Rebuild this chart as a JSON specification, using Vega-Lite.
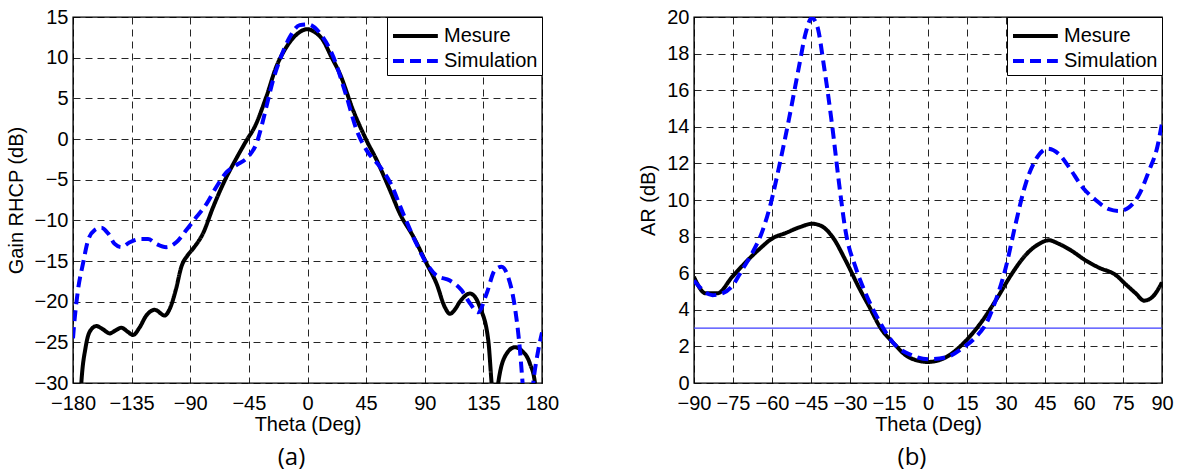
{
  "$schema": "https://vega.github.io/schema/vega-lite/v6.json",
  "background": "white",
  "padding": {"left": 5, "top": 6, "right": 5, "bottom": 0},
  "spacing": 78,
  "config": {
    "view": {"stroke": "black", "strokeWidth": 1.4},
    "font": "Liberation Sans",
    "axis": {
      "grid": true, "gridColor": "#000000", "gridDash": [7, 5], "gridWidth": 1, "gridOpacity": 0.85,
      "domain": false, "ticks": false, "labelOverlap": false, "labelFlush": false,
      "labelFont": "Liberation Sans", "labelFontSize": 20, "labelColor": "black",
      "titleFont": "Liberation Sans", "titleFontSize": 20, "titleFontWeight": "normal", "titleColor": "black"
    },
    "axisX": {"labelPadding": 10, "titlePadding": 1},
    "axisY": {"labelPadding": 5, "titlePadding": 8},
    "legend": {
      "orient": "top-right", "offset": 0, "strokeColor": "black", "fillColor": "white", "padding": 4,
      "labelFont": "Liberation Sans", "labelFontSize": 20, "labelColor": "black", "labelLimit": 300,
      "symbolType": "M-1,0H2.45", "symbolStrokeWidth": 4, "symbolSize": 676, "labelOffset": 23,
      "rowPadding": 0, "cornerRadius": 0
    },
    "title": {"font": "Open Sans", "fontSize": 24, "fontWeight": "normal", "color": "black"}
  },
  "resolve": {"scale": {"color": "independent", "strokeDash": "independent"}, "legend": {"color": "independent", "strokeDash": "independent"}},
  "hconcat": [
    {
      "width": 469, "height": 366,
      "title": {"text": "(a)", "orient": "bottom", "anchor": "middle", "dx": -16, "offset": 12},
      "layer": [
        {
          "data": {"values": [
            {"theta": -175, "value": -34, "series": "Mesure"},
            {"theta": -173.6, "value": -30, "series": "Mesure"},
            {"theta": -170.3, "value": -25.6, "series": "Mesure"},
            {"theta": -167.2, "value": -23.7, "series": "Mesure"},
            {"theta": -162.1, "value": -23.0, "series": "Mesure"},
            {"theta": -157, "value": -23.4, "series": "Mesure"},
            {"theta": -151.9, "value": -23.9, "series": "Mesure"},
            {"theta": -147, "value": -23.5, "series": "Mesure"},
            {"theta": -142.9, "value": -23.2, "series": "Mesure"},
            {"theta": -138, "value": -23.7, "series": "Mesure"},
            {"theta": -133.9, "value": -24.1, "series": "Mesure"},
            {"theta": -129, "value": -23.2, "series": "Mesure"},
            {"theta": -123.7, "value": -21.7, "series": "Mesure"},
            {"theta": -117.3, "value": -21.0, "series": "Mesure"},
            {"theta": -109.6, "value": -21.7, "series": "Mesure"},
            {"theta": -105.8, "value": -20.9, "series": "Mesure"},
            {"theta": -101, "value": -18.5, "series": "Mesure"},
            {"theta": -96.8, "value": -15.7, "series": "Mesure"},
            {"theta": -92, "value": -14.3, "series": "Mesure"},
            {"theta": -87.9, "value": -13.5, "series": "Mesure"},
            {"theta": -80.2, "value": -11.6, "series": "Mesure"},
            {"theta": -72.5, "value": -8.4, "series": "Mesure"},
            {"theta": -62.3, "value": -4.7, "series": "Mesure"},
            {"theta": -55, "value": -2.5, "series": "Mesure"},
            {"theta": -46.9, "value": -0.2, "series": "Mesure"},
            {"theta": -40.5, "value": 1.5, "series": "Mesure"},
            {"theta": -31.6, "value": 5.2, "series": "Mesure"},
            {"theta": -23.9, "value": 8.9, "series": "Mesure"},
            {"theta": -16.2, "value": 11.3, "series": "Mesure"},
            {"theta": -8, "value": 12.9, "series": "Mesure"},
            {"theta": 0, "value": 13.5, "series": "Mesure"},
            {"theta": 5, "value": 13.2, "series": "Mesure"},
            {"theta": 12.1, "value": 12.1, "series": "Mesure"},
            {"theta": 18, "value": 10.2, "series": "Mesure"},
            {"theta": 24.9, "value": 8.0, "series": "Mesure"},
            {"theta": 35.1, "value": 3.5, "series": "Mesure"},
            {"theta": 45.4, "value": -0.2, "series": "Mesure"},
            {"theta": 53.1, "value": -2.6, "series": "Mesure"},
            {"theta": 63.3, "value": -6.3, "series": "Mesure"},
            {"theta": 71, "value": -9.2, "series": "Mesure"},
            {"theta": 81.2, "value": -12.0, "series": "Mesure"},
            {"theta": 91.4, "value": -15.3, "series": "Mesure"},
            {"theta": 99.1, "value": -17.8, "series": "Mesure"},
            {"theta": 105.5, "value": -20.7, "series": "Mesure"},
            {"theta": 109.3, "value": -21.5, "series": "Mesure"},
            {"theta": 113, "value": -21.0, "series": "Mesure"},
            {"theta": 117, "value": -20.0, "series": "Mesure"},
            {"theta": 124.7, "value": -19.0, "series": "Mesure"},
            {"theta": 128, "value": -19.3, "series": "Mesure"},
            {"theta": 132.4, "value": -20.7, "series": "Mesure"},
            {"theta": 138.8, "value": -24.8, "series": "Mesure"},
            {"theta": 141.3, "value": -30, "series": "Mesure"},
            {"theta": 143.5, "value": -34, "series": "Mesure"},
            {"theta": 146.4, "value": -30, "series": "Mesure"},
            {"theta": 152.8, "value": -26.4, "series": "Mesure"},
            {"theta": 159.2, "value": -25.6, "series": "Mesure"},
            {"theta": 164.3, "value": -26.0, "series": "Mesure"},
            {"theta": 170.7, "value": -27.6, "series": "Mesure"},
            {"theta": 174.6, "value": -30, "series": "Mesure"},
            {"theta": 176, "value": -34, "series": "Mesure"},
            {"theta": -180, "value": -24.5, "series": "Simulation"},
            {"theta": -179.5, "value": -23.5, "series": "Simulation"},
            {"theta": -176.2, "value": -18.6, "series": "Simulation"},
            {"theta": -172.3, "value": -15.3, "series": "Simulation"},
            {"theta": -168.5, "value": -12.5, "series": "Simulation"},
            {"theta": -163.4, "value": -11.2, "series": "Simulation"},
            {"theta": -158.2, "value": -10.9, "series": "Simulation"},
            {"theta": -153.1, "value": -11.6, "series": "Simulation"},
            {"theta": -148, "value": -12.9, "series": "Simulation"},
            {"theta": -142.9, "value": -13.3, "series": "Simulation"},
            {"theta": -136.5, "value": -12.7, "series": "Simulation"},
            {"theta": -128.8, "value": -12.3, "series": "Simulation"},
            {"theta": -122.4, "value": -12.3, "series": "Simulation"},
            {"theta": -116, "value": -12.9, "series": "Simulation"},
            {"theta": -108.4, "value": -13.3, "series": "Simulation"},
            {"theta": -100.7, "value": -12.7, "series": "Simulation"},
            {"theta": -93, "value": -11.2, "series": "Simulation"},
            {"theta": -85.3, "value": -9.6, "series": "Simulation"},
            {"theta": -77.6, "value": -8.0, "series": "Simulation"},
            {"theta": -70, "value": -5.9, "series": "Simulation"},
            {"theta": -62.3, "value": -4.1, "series": "Simulation"},
            {"theta": -54.6, "value": -3.2, "series": "Simulation"},
            {"theta": -45.7, "value": -2.2, "series": "Simulation"},
            {"theta": -39.3, "value": -0.6, "series": "Simulation"},
            {"theta": -34.1, "value": 2.3, "series": "Simulation"},
            {"theta": -30.3, "value": 4.8, "series": "Simulation"},
            {"theta": -26.5, "value": 7.2, "series": "Simulation"},
            {"theta": -21.3, "value": 9.7, "series": "Simulation"},
            {"theta": -13.7, "value": 12.5, "series": "Simulation"},
            {"theta": -6, "value": 14.0, "series": "Simulation"},
            {"theta": 0, "value": 14.1, "series": "Simulation"},
            {"theta": 9.6, "value": 13.0, "series": "Simulation"},
            {"theta": 19.8, "value": 10.1, "series": "Simulation"},
            {"theta": 30, "value": 5.2, "series": "Simulation"},
            {"theta": 37.7, "value": 1.1, "series": "Simulation"},
            {"theta": 45.4, "value": -1.4, "series": "Simulation"},
            {"theta": 55.6, "value": -3.4, "series": "Simulation"},
            {"theta": 63.3, "value": -5.3, "series": "Simulation"},
            {"theta": 73.5, "value": -9.2, "series": "Simulation"},
            {"theta": 83.7, "value": -12.9, "series": "Simulation"},
            {"theta": 91.4, "value": -15.3, "series": "Simulation"},
            {"theta": 99.1, "value": -16.8, "series": "Simulation"},
            {"theta": 109.3, "value": -17.4, "series": "Simulation"},
            {"theta": 118.3, "value": -18.6, "series": "Simulation"},
            {"theta": 124.7, "value": -20.2, "series": "Simulation"},
            {"theta": 131, "value": -21.3, "series": "Simulation"},
            {"theta": 137.5, "value": -19.0, "series": "Simulation"},
            {"theta": 143.9, "value": -16.1, "series": "Simulation"},
            {"theta": 149, "value": -15.7, "series": "Simulation"},
            {"theta": 154.1, "value": -17.0, "series": "Simulation"},
            {"theta": 159.2, "value": -20.7, "series": "Simulation"},
            {"theta": 163.1, "value": -26.0, "series": "Simulation"},
            {"theta": 165.1, "value": -30, "series": "Simulation"},
            {"theta": 166.5, "value": -33, "series": "Simulation"},
            {"theta": 171.5, "value": -33, "series": "Simulation"},
            {"theta": 173.3, "value": -30, "series": "Simulation"},
            {"theta": 177.1, "value": -26, "series": "Simulation"},
            {"theta": 180, "value": -23.8, "series": "Simulation"}
          ]},
          "mark": {"type": "line", "clip": true, "interpolate": "monotone", "strokeWidth": 4},
          "encoding": {
            "x": {"field": "theta", "type": "quantitative", "title": "Theta (Deg)",
                  "scale": {"domain": [-180, 180], "nice": false},
                  "axis": {"values": [-180, -135, -90, -45, 0, 45, 90, 135, 180]}},
            "y": {"field": "value", "type": "quantitative", "title": "Gain RHCP (dB)",
                  "scale": {"domain": [-30, 15], "nice": false},
                  "axis": {"values": [-30, -25, -20, -15, -10, -5, 0, 5, 10, 15]}},
            "color": {"field": "series", "type": "nominal", "title": null,
                      "scale": {"domain": ["Mesure", "Simulation"], "range": ["#000000", "#0000ff"]}},
            "strokeDash": {"field": "series", "type": "nominal", "title": null,
                           "scale": {"domain": ["Mesure", "Simulation"], "range": [[1, 0], [11, 6]]}}
          }
        }
      ]
    },
    {
      "width": 468, "height": 366,
      "title": {"text": "(b)", "orient": "bottom", "anchor": "middle", "dx": -16, "offset": 12},
      "layer": [
        {
          "data": {"values": [{"level": 3}]},
          "mark": {"type": "rule", "color": "#3c3cff", "strokeWidth": 1.2},
          "encoding": {"y": {"field": "level", "type": "quantitative", "title": "AR (dB)",
                  "scale": {"domain": [0, 20], "nice": false},
                  "axis": {"values": [0, 2, 4, 6, 8, 10, 12, 14, 16, 18, 20]}}}
        },
        {
          "data": {"values": [
            {"theta": -90, "value": 5.8, "series": "Mesure"},
            {"theta": -85.5, "value": 4.9, "series": "Mesure"},
            {"theta": -81, "value": 4.9, "series": "Mesure"},
            {"theta": -75.3, "value": 5.8, "series": "Mesure"},
            {"theta": -70.1, "value": 6.6, "series": "Mesure"},
            {"theta": -65, "value": 7.3, "series": "Mesure"},
            {"theta": -59.9, "value": 7.9, "series": "Mesure"},
            {"theta": -54.7, "value": 8.2, "series": "Mesure"},
            {"theta": -49.6, "value": 8.5, "series": "Mesure"},
            {"theta": -44.5, "value": 8.7, "series": "Mesure"},
            {"theta": -41.3, "value": 8.6, "series": "Mesure"},
            {"theta": -36.8, "value": 8.0, "series": "Mesure"},
            {"theta": -31.7, "value": 6.7, "series": "Mesure"},
            {"theta": -26.5, "value": 5.2, "series": "Mesure"},
            {"theta": -22.7, "value": 4.2, "series": "Mesure"},
            {"theta": -18.2, "value": 3.0, "series": "Mesure"},
            {"theta": -13.4, "value": 2.2, "series": "Mesure"},
            {"theta": -7.3, "value": 1.4, "series": "Mesure"},
            {"theta": 0, "value": 1.15, "series": "Mesure"},
            {"theta": 6.8, "value": 1.4, "series": "Mesure"},
            {"theta": 14.5, "value": 2.3, "series": "Mesure"},
            {"theta": 20.9, "value": 3.4, "series": "Mesure"},
            {"theta": 26, "value": 4.5, "series": "Mesure"},
            {"theta": 32.4, "value": 6.0, "series": "Mesure"},
            {"theta": 37.6, "value": 7.0, "series": "Mesure"},
            {"theta": 42.7, "value": 7.6, "series": "Mesure"},
            {"theta": 46.5, "value": 7.8, "series": "Mesure"},
            {"theta": 50.4, "value": 7.6, "series": "Mesure"},
            {"theta": 55.5, "value": 7.2, "series": "Mesure"},
            {"theta": 60.6, "value": 6.7, "series": "Mesure"},
            {"theta": 65.8, "value": 6.3, "series": "Mesure"},
            {"theta": 72.2, "value": 5.9, "series": "Mesure"},
            {"theta": 76, "value": 5.4, "series": "Mesure"},
            {"theta": 79.9, "value": 4.9, "series": "Mesure"},
            {"theta": 83.1, "value": 4.5, "series": "Mesure"},
            {"theta": 86.3, "value": 4.7, "series": "Mesure"},
            {"theta": 90, "value": 5.5, "series": "Mesure"},
            {"theta": -90, "value": 5.6, "series": "Simulation"},
            {"theta": -86.8, "value": 5.1, "series": "Simulation"},
            {"theta": -82.9, "value": 4.8, "series": "Simulation"},
            {"theta": -79.1, "value": 4.9, "series": "Simulation"},
            {"theta": -75.3, "value": 5.3, "series": "Simulation"},
            {"theta": -71.4, "value": 6.2, "series": "Simulation"},
            {"theta": -67.6, "value": 7.1, "series": "Simulation"},
            {"theta": -63.7, "value": 8.3, "series": "Simulation"},
            {"theta": -60.5, "value": 9.8, "series": "Simulation"},
            {"theta": -57.3, "value": 11.8, "series": "Simulation"},
            {"theta": -53.5, "value": 14.4, "series": "Simulation"},
            {"theta": -49.6, "value": 17.3, "series": "Simulation"},
            {"theta": -47.1, "value": 19.1, "series": "Simulation"},
            {"theta": -44.7, "value": 19.95, "series": "Simulation"},
            {"theta": -42.6, "value": 19.5, "series": "Simulation"},
            {"theta": -40, "value": 17.3, "series": "Simulation"},
            {"theta": -36.8, "value": 14.0, "series": "Simulation"},
            {"theta": -34.2, "value": 10.9, "series": "Simulation"},
            {"theta": -31.7, "value": 8.3, "series": "Simulation"},
            {"theta": -27.8, "value": 6.3, "series": "Simulation"},
            {"theta": -24, "value": 4.9, "series": "Simulation"},
            {"theta": -18.8, "value": 3.4, "series": "Simulation"},
            {"theta": -13.4, "value": 2.2, "series": "Simulation"},
            {"theta": -6, "value": 1.5, "series": "Simulation"},
            {"theta": 0, "value": 1.3, "series": "Simulation"},
            {"theta": 6.8, "value": 1.4, "series": "Simulation"},
            {"theta": 13.2, "value": 1.9, "series": "Simulation"},
            {"theta": 18.3, "value": 2.5, "series": "Simulation"},
            {"theta": 22.2, "value": 3.2, "series": "Simulation"},
            {"theta": 26, "value": 4.5, "series": "Simulation"},
            {"theta": 29.9, "value": 6.3, "series": "Simulation"},
            {"theta": 33.7, "value": 8.7, "series": "Simulation"},
            {"theta": 37.6, "value": 10.9, "series": "Simulation"},
            {"theta": 41.4, "value": 12.2, "series": "Simulation"},
            {"theta": 46, "value": 12.8, "series": "Simulation"},
            {"theta": 50.4, "value": 12.5, "series": "Simulation"},
            {"theta": 54.2, "value": 11.8, "series": "Simulation"},
            {"theta": 59.4, "value": 10.7, "series": "Simulation"},
            {"theta": 64.5, "value": 10.0, "series": "Simulation"},
            {"theta": 69.6, "value": 9.5, "series": "Simulation"},
            {"theta": 73.5, "value": 9.4, "series": "Simulation"},
            {"theta": 77.3, "value": 9.6, "series": "Simulation"},
            {"theta": 81.2, "value": 10.3, "series": "Simulation"},
            {"theta": 85, "value": 11.6, "series": "Simulation"},
            {"theta": 88.2, "value": 12.9, "series": "Simulation"},
            {"theta": 90, "value": 14.2, "series": "Simulation"}
          ]},
          "mark": {"type": "line", "clip": true, "interpolate": "monotone", "strokeWidth": 4},
          "encoding": {
            "x": {"field": "theta", "type": "quantitative", "title": "Theta (Deg)",
                  "scale": {"domain": [-90, 90], "nice": false},
                  "axis": {"values": [-90, -75, -60, -45, -30, -15, 0, 15, 30, 45, 60, 75, 90]}},
            "y": {"field": "value", "type": "quantitative", "title": "AR (dB)",
                  "scale": {"domain": [0, 20], "nice": false},
                  "axis": {"values": [0, 2, 4, 6, 8, 10, 12, 14, 16, 18, 20]}},
            "color": {"field": "series", "type": "nominal", "title": null,
                      "scale": {"domain": ["Mesure", "Simulation"], "range": ["#000000", "#0000ff"]}},
            "strokeDash": {"field": "series", "type": "nominal", "title": null,
                           "scale": {"domain": ["Mesure", "Simulation"], "range": [[1, 0], [11, 6]]}}
          }
        }
      ]
    }
  ]
}
